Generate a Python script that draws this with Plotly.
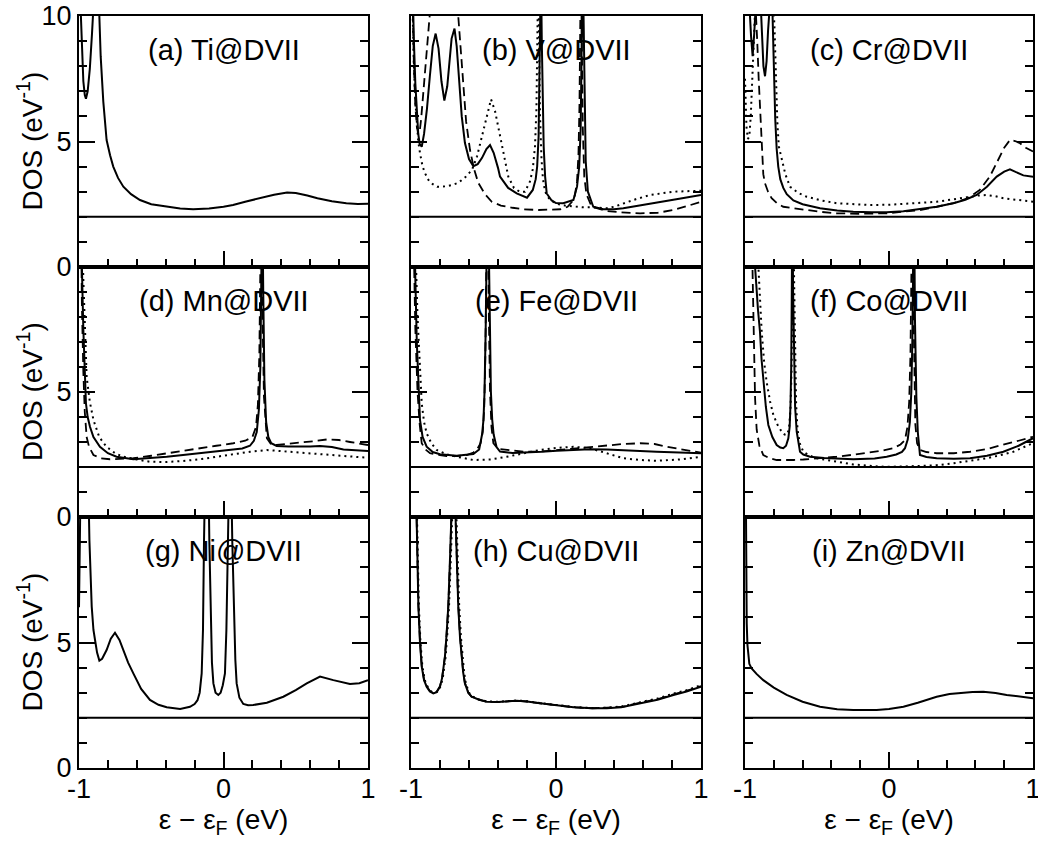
import plotly.graph_objects as go

# ---------------- data ----------------
panel_labels = ["(a) Ti@DVII", "(b) V@DVII", "(c) Cr@DVII",
                "(d) Mn@DVII", "(e) Fe@DVII", "(f) Co@DVII",
                "(g) Ni@DVII", "(h) Cu@DVII", "(i) Zn@DVII"]
x_tick_vals = [-1, 0, 1]
x_tick_text = ["-1", "0", "1"]
y_tick_vals = [0, 5, 10]
y_tick_text_top = ["0", "5", "10"]
y_tick_text_lower = ["0", "5", ""]
baseline_level = 2
x_title = "ε − ε<sub>F</sub> (eV)"
y_title = "DOS (eV<sup>-1</sup>)"

# (a) Ti
ti_solid_x = [-1.0, -0.99, -0.98, -0.97, -0.96, -0.952, -0.94, -0.925, -0.91, -0.895, -0.88, -0.865, -0.85,
              -0.832, -0.809, -0.785, -0.763, -0.73, -0.693, -0.64, -0.578, -0.5, -0.393, -0.3, -0.21, -0.1,
              0.0, 0.066, 0.15, 0.25, 0.35, 0.44, 0.5, 0.58, 0.65, 0.75, 0.85, 0.93, 1.0]
ti_solid_y = [12, 10.2, 8.6, 7.4, 6.85, 6.7, 7.0, 7.9, 9.3, 10.8, 12.5, 11.0, 8.4,
              6.6, 5.06, 4.45, 4.0, 3.55, 3.2, 2.9, 2.67, 2.5, 2.4, 2.33, 2.3, 2.33,
              2.4, 2.47, 2.6, 2.74, 2.88, 2.97, 2.95, 2.85, 2.74, 2.62, 2.54, 2.51, 2.52]

# (b) V
v_solid_x = [-1.0, -0.99, -0.98, -0.97, -0.96, -0.95, -0.94, -0.926, -0.91, -0.89, -0.87, -0.85, -0.83, -0.81,
             -0.79, -0.77, -0.75, -0.735, -0.72, -0.70, -0.685, -0.67, -0.65, -0.628, -0.60, -0.57, -0.54,
             -0.51, -0.48, -0.455, -0.43, -0.40, -0.386, -0.33, -0.271, -0.2, -0.16, -0.14, -0.13, -0.12,
             -0.114, -0.108, -0.104, -0.098, -0.092, -0.085, -0.075, -0.064, -0.03, 0.0, 0.05, 0.09, 0.12,
             0.145, 0.16, 0.17, 0.177, 0.182, 0.186, 0.19, 0.196, 0.205, 0.22, 0.257, 0.326, 0.40, 0.464,
             0.55, 0.694, 0.85, 1.0]
v_solid_y = [14, 11, 9, 7.3, 6.0, 5.3, 4.9, 4.79, 5.3, 6.3, 7.6, 8.8, 9.3, 8.7,
             7.4, 6.63, 7.2, 8.2, 9.1, 9.5, 8.8, 7.6, 6.0, 4.94, 4.3, 4.02, 4.1,
             4.35, 4.7, 4.86, 4.55, 3.95, 3.6, 3.15, 2.93, 2.76, 3.07, 3.5, 4.0, 5.2,
             6.8, 9.5, 12, 9.0, 6.5, 4.8, 3.6, 2.93, 2.65, 2.55, 2.54, 2.6, 2.67,
             3.2, 4.0, 5.5, 7.5, 11, 13, 10, 6.5, 4.2, 3.0, 2.4, 2.3, 2.3, 2.34,
             2.42, 2.56, 2.72, 2.87]
v_dashed_x = [-1.0, -0.99, -0.98, -0.97, -0.96, -0.95, -0.94, -0.93, -0.915, -0.90, -0.885, -0.87, -0.85,
              -0.80, -0.75, -0.70, -0.674, -0.65, -0.62, -0.593, -0.565, -0.536, -0.49, -0.443, -0.38, -0.30,
              -0.225, -0.12, -0.04, 0.03, 0.08, 0.11, 0.13, 0.145, 0.155, 0.162, 0.167, 0.172, 0.178, 0.185,
              0.195, 0.21, 0.246, 0.30, 0.35, 0.45, 0.58, 0.70, 0.81, 0.90, 1.0]
v_dashed_y = [14, 10.5, 8.0, 6.4, 5.6, 5.3, 5.4, 5.9, 7.0, 8.3, 9.4, 10.3, 11.5,
              13, 13.5, 12, 10, 7.8, 5.8, 4.66, 3.9, 3.35, 2.9, 2.6, 2.45, 2.36,
              2.3, 2.27, 2.27, 2.3, 2.4, 2.6, 2.85, 3.4, 4.5, 6.5, 9.5, 12, 9.0, 5.5,
              3.6, 2.9, 2.4, 2.3, 2.23, 2.18, 2.14, 2.16, 2.27, 2.42, 2.6]
v_dotted_x = [-1.0, -0.99, -0.98, -0.97, -0.96, -0.95, -0.938, -0.92, -0.90, -0.88, -0.85, -0.82, -0.79,
              -0.75, -0.71, -0.676, -0.63, -0.58, -0.545, -0.512, -0.48, -0.448, -0.42, -0.386, -0.355,
              -0.329, -0.29, -0.25, -0.214, -0.18, -0.16, -0.145, -0.135, -0.128, -0.122, -0.116, -0.11,
              -0.10, -0.09, -0.075, -0.05, -0.02, 0.02, 0.06, 0.10, 0.14, 0.18, 0.234, 0.30, 0.35, 0.40,
              0.464, 0.55, 0.648, 0.75, 0.81, 0.90, 1.0]
v_dotted_y = [13, 10, 8.0, 6.6, 5.6, 5.0, 4.54, 4.0, 3.7, 3.47, 3.3, 3.2, 3.2,
              3.22, 3.28, 3.35, 3.55, 3.86, 4.4, 5.19, 6.0, 6.68, 6.2, 5.19, 4.3,
              3.6, 3.15, 3.0, 3.0, 3.4, 3.9, 4.8, 6.3, 8.5, 12, 8.5, 6.0,
              4.3, 3.5, 3.0, 2.75, 2.6, 2.5, 2.45, 2.42, 2.4, 2.38, 2.38, 2.36, 2.34, 2.4,
              2.54, 2.7, 2.87, 2.97, 3.0, 3.02, 3.04]

# (c) Cr
cr_solid_x = [-1.0, -0.985, -0.97, -0.958, -0.947, -0.936, -0.925, -0.91, -0.895, -0.883, -0.872, -0.861,
              -0.85, -0.84, -0.83, -0.815, -0.805, -0.798, -0.79, -0.78, -0.769, -0.755, -0.734, -0.71,
              -0.664, -0.6, -0.479, -0.36, -0.248, -0.12, -0.016, 0.1, 0.215, 0.33, 0.447, 0.53, 0.609,
              0.68, 0.748, 0.80, 0.84, 0.88, 0.933, 1.0]
cr_solid_y = [14, 12, 10.5, 9.2, 8.4, 9.3, 11, 12, 11, 9.0, 8.0, 7.6,
              8.2, 9.4, 11, 11.5, 9.2, 7.6, 5.9, 4.7, 4.0, 3.5, 3.15, 2.9,
              2.65, 2.5, 2.34, 2.25, 2.2, 2.18, 2.18, 2.22, 2.3, 2.4, 2.54, 2.68, 2.87,
              3.2, 3.6, 3.8, 3.89, 3.8, 3.65, 3.6]
cr_dashed_x = [-1.0, -0.97, -0.945, -0.93, -0.915, -0.905, -0.896, -0.884, -0.873, -0.861, -0.84, -0.815,
               -0.78, -0.734, -0.66, -0.595, -0.48, -0.363, -0.2, -0.016, 0.1, 0.215, 0.33, 0.447, 0.55,
               0.63, 0.70, 0.748, 0.80, 0.84, 0.875, 0.91, 0.95, 1.0]
cr_dashed_y = [15, 14, 12.5, 11, 9.0, 7.5, 6.25, 4.7, 3.7, 3.33, 3.0, 2.74,
               2.55, 2.4, 2.34, 2.28, 2.2, 2.14, 2.12, 2.14, 2.2, 2.27, 2.4, 2.54, 2.75,
               3.07, 3.6, 4.13, 4.75, 5.06, 5.02, 4.93, 4.75, 4.6]
cr_dotted_x = [-1.0, -0.99, -0.98, -0.97, -0.96, -0.95, -0.94, -0.93, -0.91, -0.85, -0.81, -0.795, -0.785,
               -0.775, -0.765, -0.745, -0.72, -0.6875, -0.63, -0.572, -0.47, -0.363, -0.25, -0.132, 0.0,
               0.1, 0.215, 0.331, 0.45, 0.5625, 0.62, 0.678, 0.74, 0.794, 0.9, 1.0]
cr_dotted_y = [7.5, 5.6, 5.1, 5.2, 6.0, 7.5, 9.5, 11.5, 13, 13, 11.5, 9.5, 7.3,
               5.7, 4.8, 4.26, 3.7, 3.2, 2.95, 2.8, 2.65, 2.54, 2.5, 2.47, 2.48,
               2.51, 2.55, 2.6, 2.7, 2.8, 2.85, 2.87, 2.82, 2.74, 2.66, 2.6]

# (d) Mn
mn_solid_x = [-1.0, -0.99, -0.98, -0.97, -0.96, -0.952, -0.94, -0.924, -0.9, -0.855, -0.8, -0.74, -0.624,
              -0.5, -0.393, -0.28, -0.163, -0.05, 0.068, 0.13, 0.183, 0.21, 0.23, 0.245, 0.255, 0.262,
              0.268, 0.275, 0.283, 0.295, 0.31, 0.33, 0.368, 0.45, 0.53, 0.6, 0.668, 0.75, 0.83, 0.92, 1.0]
mn_solid_y = [20, 14, 10, 7.5, 5.6, 4.55, 4.0, 3.61, 3.2, 2.81, 2.55, 2.41, 2.31,
              2.35, 2.41, 2.48, 2.55, 2.62, 2.68, 2.74, 2.85, 3.05, 3.4, 4.3, 6.0, 9.0,
              13, 9.0, 5.5, 3.8, 3.2, 2.95, 2.84, 2.82, 2.81, 2.82, 2.84, 2.8, 2.7, 2.66, 2.64]
mn_dashed_x = [-1.0, -0.99, -0.98, -0.97, -0.96, -0.947, -0.93, -0.9, -0.85, -0.785, -0.7, -0.624, -0.5,
               -0.393, -0.28, -0.163, -0.05, 0.068, 0.15, 0.2, 0.225, 0.238, 0.248, 0.255, 0.262, 0.27,
               0.28, 0.3, 0.33, 0.368, 0.45, 0.53, 0.62, 0.714, 0.8, 0.875, 0.94, 1.0]
mn_dashed_y = [20, 13, 8.5, 5.8, 4.2, 3.2, 2.8, 2.48, 2.35, 2.31, 2.32, 2.35, 2.45,
               2.55, 2.65, 2.75, 2.85, 2.95, 3.05, 3.2, 3.6, 4.5, 6.5, 10, 13, 8.0,
               4.8, 3.15, 2.9, 2.88, 2.92, 2.97, 3.03, 3.1, 3.08, 3.0, 2.95, 2.88]
mn_dotted_x = [-1.0, -0.99, -0.98, -0.97, -0.96, -0.947, -0.925, -0.9, -0.86, -0.81, -0.75, -0.693, -0.6,
               -0.509, -0.4, -0.278, -0.15, -0.047, 0.06, 0.183, 0.3, 0.42, 0.53, 0.65, 0.76, 0.88, 1.0]
mn_dotted_y = [22, 16, 12, 9.5, 7.5, 5.6, 4.6, 3.88, 3.2, 2.81, 2.55, 2.41, 2.3,
               2.21, 2.2, 2.24, 2.32, 2.41, 2.5, 2.61, 2.68, 2.62, 2.57, 2.52, 2.48, 2.42, 2.37]

# (e) Fe
fe_solid_x = [-1.0, -0.985, -0.97, -0.96, -0.95, -0.938, -0.92, -0.892, -0.85, -0.8, -0.685, -0.6, -0.57,
              -0.53, -0.51, -0.5, -0.493, -0.485, -0.478, -0.471, -0.464, -0.457, -0.449, -0.44, -0.43,
              -0.41, -0.386, -0.3, -0.225, -0.1, 0.005, 0.12, 0.234, 0.35, 0.464, 0.58, 0.694, 0.85, 1.0]
fe_solid_y = [20, 14, 9.5, 7.0, 5.3, 3.88, 3.2, 2.81, 2.6, 2.51, 2.45, 2.48, 2.52,
              2.7, 3.3, 3.9, 5.0, 7.5, 11, 14, 11, 7.5, 5.0, 3.9, 3.3,
              2.8, 2.62, 2.56, 2.57, 2.61, 2.65, 2.68, 2.71, 2.7, 2.68, 2.65, 2.61, 2.58, 2.55]
fe_dashed_x = [-1.0, -0.985, -0.97, -0.955, -0.94, -0.926, -0.9, -0.869, -0.8, -0.754, -0.68, -0.616, -0.57,
               -0.547, -0.52, -0.505, -0.495, -0.487, -0.479, -0.471, -0.463, -0.455, -0.445, -0.432, -0.41,
               -0.386, -0.3, -0.225, -0.1, 0.005, 0.12, 0.234, 0.35, 0.464, 0.58, 0.68, 0.763, 0.88, 1.0]
fe_dashed_y = [20, 12, 7.5, 5.0, 3.7, 2.95, 2.7, 2.55, 2.48, 2.44, 2.44, 2.48, 2.58,
               2.68, 2.95, 3.4, 4.4, 6.5, 11, 13, 8.0, 5.0, 3.6, 2.95, 2.8,
               2.72, 2.66, 2.61, 2.62, 2.68, 2.74, 2.81, 2.87, 2.92, 2.95, 2.92, 2.81, 2.68, 2.57]
fe_dotted_x = [-1.0, -0.985, -0.97, -0.955, -0.94, -0.926, -0.91, -0.892, -0.86, -0.823, -0.76, -0.685,
               -0.57, -0.45, -0.34, -0.22, -0.11, 0.0, 0.12, 0.234, 0.35, 0.464, 0.58, 0.694, 0.85, 1.0]
fe_dotted_y = [22, 16, 11, 8.0, 5.9, 4.55, 3.8, 3.35, 2.95, 2.68, 2.52, 2.41,
               2.28, 2.3, 2.41, 2.55, 2.68, 2.76, 2.81, 2.75, 2.55, 2.35, 2.28, 2.25, 2.3, 2.41]

# (f) Co
co_solid_x = [-1.0, -0.96, -0.93, -0.91, -0.896, -0.885, -0.873, -0.855, -0.838, -0.81, -0.78, -0.755, -0.734,
              -0.715, -0.699, -0.69, -0.684, -0.679, -0.675, -0.671, -0.666, -0.66, -0.652, -0.641, -0.63,
              -0.618, -0.595, -0.549, -0.45, -0.387, -0.248, -0.1, -0.016, 0.05, 0.09, 0.111, 0.13, 0.145,
              0.155, 0.162, 0.168, 0.174, 0.18, 0.19, 0.2, 0.215, 0.26, 0.331, 0.45, 0.5625, 0.68, 0.794,
              0.9, 1.0]
co_solid_y = [25, 16, 10, 8.3, 7.41, 6.3, 5.41, 4.4, 3.68, 3.2, 2.88, 2.78, 2.75,
              2.85, 3.15, 3.6, 4.5, 6.0, 9.0, 13, 9.0, 6.0, 4.4, 3.41, 2.95,
              2.61, 2.5, 2.41, 2.36, 2.35, 2.31, 2.34, 2.41, 2.5, 2.6, 2.75, 3.1, 3.8,
              5.0, 7.0, 11, 13, 8.0, 4.8, 3.4, 2.48, 2.4, 2.35, 2.33, 2.35, 2.45, 2.61,
              2.85, 3.15]
co_dashed_x = [-1.0, -0.975, -0.962, -0.954, -0.946, -0.938, -0.93, -0.919, -0.9, -0.873, -0.83, -0.78,
               -0.72, -0.664, -0.595, -0.48, -0.363, -0.25, -0.132, -0.05, 0.03, 0.08, 0.111, 0.128, 0.14,
               0.149, 0.156, 0.162, 0.168, 0.175, 0.183, 0.195, 0.215, 0.26, 0.331, 0.45, 0.5625, 0.68,
               0.794, 0.9, 1.0]
co_dashed_y = [25, 18, 14, 11, 8.5, 6.3, 4.75, 3.5, 2.85, 2.48, 2.35, 2.28,
               2.27, 2.28, 2.3, 2.35, 2.41, 2.49, 2.57, 2.65, 2.75, 2.9, 3.08, 3.6, 4.6,
               6.5, 10, 13, 9.0, 5.5, 3.7, 2.95, 2.68, 2.6, 2.55, 2.55, 2.61, 2.72,
               2.88, 3.05, 3.21]
co_dotted_x = [-1.0, -0.95, -0.92, -0.907, -0.884, -0.867, -0.85, -0.825, -0.803, -0.775, -0.745, -0.725,
               -0.71, -0.695, -0.684, -0.676, -0.669, -0.664, -0.659, -0.652, -0.645, -0.635, -0.62, -0.595,
               -0.55, -0.5, -0.42, -0.34, -0.248, -0.1, -0.016, 0.1, 0.215, 0.33, 0.447, 0.56, 0.678, 0.77,
               0.863, 0.93, 1.0]
co_dotted_y = [25, 16, 12, 10, 7.41, 6.2, 5.41, 4.6, 4.08, 3.7, 3.41, 3.3,
               3.28, 3.5, 4.3, 6.0, 9.5, 13, 9.5, 6.2, 4.5, 3.5, 2.95, 2.61,
               2.45, 2.35, 2.27, 2.21, 2.1, 2.03, 2.01, 2.02, 2.04, 2.07, 2.15, 2.25, 2.35, 2.47,
               2.61, 2.78, 2.95]

# (g) Ni
ni_solid_x = [-1.0, -0.997, -0.99, -0.97, -0.95, -0.935, -0.928, -0.912, -0.9, -0.889, -0.875, -0.859, -0.84,
              -0.809, -0.78, -0.751, -0.72, -0.693, -0.66, -0.624, -0.57, -0.509, -0.45, -0.393, -0.3, -0.232,
              -0.2, -0.18, -0.165, -0.151, -0.142, -0.135, -0.127, -0.117, -0.107, -0.098, -0.09, -0.08,
              -0.07, -0.055, -0.036, -0.02, -0.005, 0.01, 0.02, 0.031, 0.046, 0.061, 0.072, 0.082, 0.091,
              0.11, 0.137, 0.17, 0.206, 0.3, 0.414, 0.5, 0.576, 0.668, 0.76, 0.875, 0.94, 1.0]
ni_solid_y = [6.4, 12, 16, 20, 16, 12, 9.08, 6.43, 5.5, 5.1, 4.6, 4.28, 4.35,
              4.7, 5.15, 5.39, 5.1, 4.7, 4.2, 3.77, 3.15, 2.71, 2.52, 2.42, 2.35, 2.44,
              2.55, 2.7, 3.0, 3.77, 5.5, 9.0, 13, 15, 13, 9.0, 6.0, 4.2,
              3.37, 3.0, 2.91, 3.0, 3.3, 3.77, 5.5, 9.0, 14, 9.0, 6.0, 4.3, 3.37,
              2.8, 2.55, 2.5, 2.51, 2.6, 2.84, 3.1, 3.37, 3.64, 3.5, 3.35, 3.38, 3.5]

# (h) Cu
cu_solid_x = [-1.0, -0.98, -0.965, -0.955, -0.949, -0.938, -0.926, -0.91, -0.892, -0.87, -0.846, -0.823, -0.8,
              -0.785, -0.766, -0.755, -0.743, -0.73, -0.718, -0.708, -0.698, -0.686, -0.674, -0.662, -0.651,
              -0.64, -0.628, -0.605, -0.582, -0.53, -0.478, -0.4, -0.271, -0.2, -0.11, 0.0, 0.12, 0.25,
              0.35, 0.45, 0.58, 0.7, 0.81, 0.9, 1.0]
cu_solid_y = [25, 16, 11, 8.2, 6.43, 5.0, 4.04, 3.5, 3.24, 3.05, 2.97, 3.02, 3.24,
              3.6, 4.44, 5.3, 6.43, 8.5, 11, 12.5, 11, 8.5, 6.43, 5.2, 4.44,
              3.8, 3.37, 3.0, 2.84, 2.72, 2.64, 2.63, 2.68, 2.65, 2.58, 2.5, 2.42, 2.38,
              2.38, 2.42, 2.58, 2.72, 2.91, 3.05, 3.24]
cu_dashed_x = [-1.0, -0.98, -0.965, -0.955, -0.949, -0.938, -0.926, -0.91, -0.892, -0.87, -0.846, -0.823,
               -0.8, -0.785, -0.766, -0.755, -0.743, -0.73, -0.718, -0.708, -0.698, -0.686, -0.674, -0.662,
               -0.651, -0.64, -0.628, -0.605, -0.582, -0.53, -0.478, -0.4, -0.271, -0.2, -0.11, 0.0, 0.12,
               0.25, 0.35, 0.45, 0.58, 0.7, 0.81, 0.9, 1.0]
cu_dashed_y = [25, 16, 11, 8.2, 6.5, 5.05, 4.08, 3.52, 3.26, 3.07, 2.99, 3.04, 3.26,
               3.62, 4.44, 5.3, 6.4, 8.4, 11, 12.5, 11, 8.6, 6.5, 5.25, 4.48,
               3.82, 3.38, 3.0, 2.84, 2.72, 2.64, 2.63, 2.68, 2.65, 2.58, 2.5, 2.42, 2.38,
               2.39, 2.43, 2.6, 2.74, 2.93, 3.07, 3.26]
cu_dotted_x = [-1.0, -0.978, -0.962, -0.952, -0.946, -0.935, -0.922, -0.906, -0.888, -0.866, -0.842, -0.818,
               -0.795, -0.78, -0.761, -0.75, -0.738, -0.725, -0.712, -0.702, -0.692, -0.68, -0.668, -0.656,
               -0.645, -0.634, -0.622, -0.6, -0.578, -0.53, -0.478, -0.4, -0.271, -0.2, -0.11, 0.0, 0.12,
               0.25, 0.35, 0.45, 0.58, 0.7, 0.81, 0.9, 1.0]
cu_dotted_y = [25, 16, 11, 8.2, 6.5, 5.05, 4.08, 3.52, 3.26, 3.07, 2.99, 3.04, 3.26,
               3.62, 4.44, 5.3, 6.4, 8.4, 11, 12.5, 11, 8.6, 6.5, 5.25, 4.48,
               3.82, 3.38, 3.0, 2.85, 2.73, 2.65, 2.64, 2.69, 2.66, 2.59, 2.51, 2.43, 2.39,
               2.4, 2.45, 2.62, 2.77, 2.96, 3.1, 3.3]

# (i) Zn
zn_solid_x = [-1.0, -0.995, -0.99, -0.988, -0.983, -0.977, -0.97, -0.954, -0.92, -0.873, -0.8, -0.711, -0.6,
              -0.479, -0.36, -0.248, -0.086, 0.0, 0.1, 0.2, 0.331, 0.42, 0.493, 0.58, 0.655, 0.74, 0.817,
              0.9, 1.0]
zn_solid_y = [16, 11, 7.5, 5.76, 4.9, 4.44, 4.15, 3.97, 3.75, 3.5, 3.2, 2.91, 2.64,
              2.44, 2.34, 2.31, 2.31, 2.35, 2.44, 2.6, 2.84, 2.95, 3.0, 3.03, 3.04, 2.99, 2.91,
              2.84, 2.78]

panel_series = [
    [("solid", ti_solid_x, ti_solid_y)],
    [("dotted", v_dotted_x, v_dotted_y), ("dashed", v_dashed_x, v_dashed_y), ("solid", v_solid_x, v_solid_y)],
    [("dotted", cr_dotted_x, cr_dotted_y), ("dashed", cr_dashed_x, cr_dashed_y), ("solid", cr_solid_x, cr_solid_y)],
    [("dotted", mn_dotted_x, mn_dotted_y), ("dashed", mn_dashed_x, mn_dashed_y), ("solid", mn_solid_x, mn_solid_y)],
    [("dotted", fe_dotted_x, fe_dotted_y), ("dashed", fe_dashed_x, fe_dashed_y), ("solid", fe_solid_x, fe_solid_y)],
    [("dotted", co_dotted_x, co_dotted_y), ("dashed", co_dashed_x, co_dashed_y), ("solid", co_solid_x, co_solid_y)],
    [("solid", ni_solid_x, ni_solid_y)],
    [("dotted", cu_dotted_x, cu_dotted_y), ("dashed", cu_dashed_x, cu_dashed_y), ("solid", cu_solid_x, cu_solid_y)],
    [("solid", zn_solid_x, zn_solid_y)],
]

# ---------------- layout / style ----------------
W, H = 1038, 842
col_px = [(79, 368), (411, 701), (745, 1033)]
row_px = [(16, 267), (267, 517), (517, 768)]
FONT = "Liberation Sans, Arial, Helvetica, sans-serif"
TICK_SIZE = 27
TITLE_SIZE = 28
LABEL_SIZE = 29
y_title_x_px = 30
line_styles = {
    "solid": dict(color="black", width=2, dash="solid"),
    "dashed": dict(color="black", width=1.8, dash="9px,5px"),
    "dotted": dict(color="black", width=2, dash="2px,4px"),
}
label_y = 8.65

fig = go.Figure()
layout = dict(
    template="none",
    width=W, height=H, margin=dict(l=0, r=0, t=0, b=0, autoexpand=False),
    paper_bgcolor="white", plot_bgcolor="white", showlegend=False,
    font=dict(family=FONT, color="black", size=TICK_SIZE),
    shapes=[], annotations=[],
)

for k in range(9):
    r, c = divmod(k, 3)
    n = "" if k == 0 else str(k + 1)
    xa, ya = "x" + n, "y" + n
    for style, xs, ys in panel_series[k]:
        fig.add_trace(go.Scatter(x=xs, y=ys, mode="lines", line=line_styles[style],
                                 xaxis=xa, yaxis=ya, hoverinfo="skip", showlegend=False))
    x0, x1 = col_px[c]
    y0, y1 = row_px[r]
    xaxis = dict(
        domain=[x0 / W, x1 / W], anchor=ya, range=[-1, 1], automargin=False,
        showline=True, linecolor="black", linewidth=2, mirror=True,
        showgrid=False, zeroline=False,
        tickmode="array", tickvals=x_tick_vals, ticktext=x_tick_text,
        ticks="inside", ticklen=16, tickwidth=2, tickcolor="black",
        minor=dict(tickmode="linear", tick0=-1, dtick=0.2, ticks="inside", ticklen=8,
                   tickwidth=2, tickcolor="black", showgrid=False),
        showticklabels=(r == 2), tickfont=dict(size=TICK_SIZE, family=FONT, color="black"),
        ticklabelstandoff=-4, ticklabeloverflow="allow",
        fixedrange=True,
    )
    if r == 2:
        xaxis["title"] = dict(text=x_title, font=dict(size=TITLE_SIZE, family=FONT, color="black"),
                              standoff=3)
    yaxis = dict(
        domain=[1 - y1 / H, 1 - y0 / H], anchor=xa, range=[0, 10], automargin=False,
        showline=True, linecolor="black", linewidth=2, mirror="ticks",
        showgrid=False, zeroline=False,
        tickmode="array", tickvals=y_tick_vals,
        ticktext=y_tick_text_top if r == 0 else y_tick_text_lower,
        ticks="inside", ticklen=16, tickwidth=2, tickcolor="black",
        minor=dict(tickmode="linear", tick0=0, dtick=1, ticks="inside", ticklen=8,
                   tickwidth=2, tickcolor="black", showgrid=False),
        showticklabels=(c == 0), tickfont=dict(size=TICK_SIZE, family=FONT, color="black"),
        ticklabeloverflow="allow",
        fixedrange=True,
    )
    layout["xaxis" + n] = xaxis
    layout["yaxis" + n] = yaxis
    if c == 0:
        # y-axis title, placed at the same horizontal position for every row
        layout["annotations"].append(dict(
            text=y_title, xref="paper", yref=ya + " domain", x=y_title_x_px / W, y=0.5,
            textangle=-90, showarrow=False, xanchor="center", yanchor="middle",
            font=dict(size=TITLE_SIZE, family=FONT, color="black")))
    layout["shapes"].append(dict(type="line", xref=xa + " domain", x0=0, x1=1,
                                 yref=ya, y0=baseline_level, y1=baseline_level,
                                 line=dict(color="black", width=2)))
    layout["annotations"].append(dict(text=panel_labels[k], xref=xa, yref=ya, x=0, y=label_y,
                                      showarrow=False, xanchor="center", yanchor="middle",
                                      font=dict(size=LABEL_SIZE, family=FONT, color="black")))

fig.update_layout(**layout)
fig.write_html("out.html", post_script="document.body.style.margin='0px';",
               config={"displayModeBar": False})
